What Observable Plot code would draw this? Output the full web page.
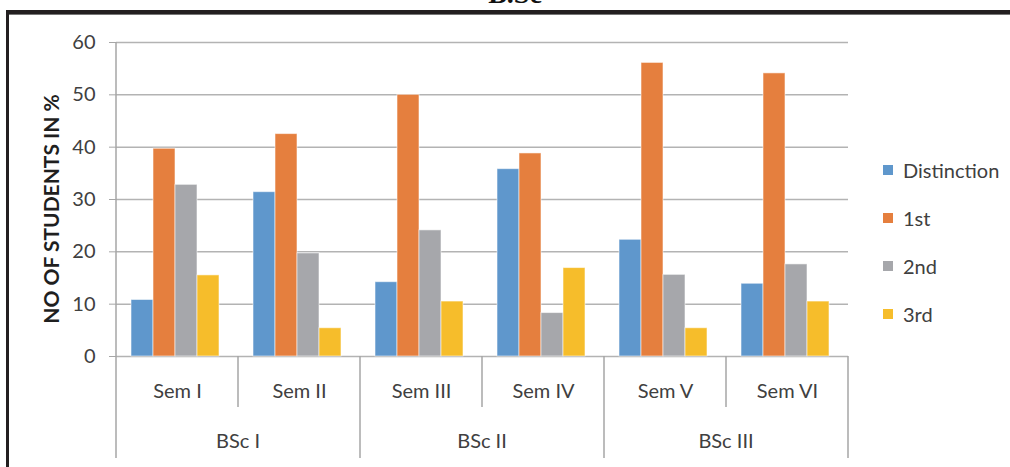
<!DOCTYPE html>
<html>
<head>
<meta charset="utf-8">
<script src="https://cdn.jsdelivr.net/npm/d3@7"></script>
<script src="https://cdn.jsdelivr.net/npm/@observablehq/plot@0.6"></script>
<style>
  html, body { margin: 0; padding: 0; background: #fff; }
  #wrap { position: relative; width: 1010px; height: 467px; overflow: hidden; background: #fff; }
  #title { position: absolute; left: 0; width: 1030px; top: -20px; text-align: center;
           font: bold 28px "Liberation Serif", serif; color: #111; line-height: 28px; }
  #frame { position: absolute; left: 6px; top: 10px; width: 1100px; height: 600px;
           border-top: 4px solid #231f20; border-left: 3px solid #231f20;
           box-shadow: inset 0 1px 0 #777; }
  #chart { position: absolute; left: 0; top: 0; }
  #legend { position: absolute; left: 883px; top: 146px; font: 20px Lato, sans-serif; color: #404040; }
  .row { height: 48px; display: flex; align-items: center; }
  .sw { width: 10px; height: 10px; margin-right: 10px; }
</style>
</head>
<body>
<div id="wrap">
  <div id="title">B.Sc</div>
  <div id="frame"></div>
  <div id="chart"></div>
  <div id="legend"></div>
</div>
<script>
const semesters = ["Sem I", "Sem II", "Sem III", "Sem IV", "Sem V", "Sem VI"];
const years = ["BSc I", "BSc II", "BSc III"];
const series = ["Distinction", "1st", "2nd", "3rd"];
const colors = ["#5f97cc", "#e57f3e", "#a6a7ab", "#f6bd2b"];
const distinction = [10.8, 31.4, 14.2, 35.8, 22.3, 13.9];
const first = [39.7, 42.5, 50.0, 38.8, 56.1, 54.1];
const second = [32.8, 19.7, 24.1, 8.3, 15.6, 17.6];
const third = [15.5, 5.4, 10.5, 16.9, 5.4, 10.5];
const yTicks = [0, 10, 20, 30, 40, 50, 60];
const yLabel = "NO OF STUDENTS IN %";

const values = [distinction, first, second, third];
const data = semesters.flatMap((s, i) => series.map((k, j) => ({semester: s, series: k, value: values[j][i]})));

const chart = Plot.plot({
  width: 1010,
  height: 467,
  marginTop: 42,
  marginBottom: 111,
  marginLeft: 115,
  marginRight: 162,
  style: {fontFamily: "Lato, sans-serif", fontSize: "20px", color: "#404040", background: "transparent", overflow: "visible"},
  facet: {data: data, x: "semester"},
  fx: {domain: semesters, padding: 0, label: null, tickSize: 0, tickPadding: 27},
  x: {domain: series, axis: null, paddingInner: 0, paddingOuter: 0.76, align: 0.45},
  y: {domain: [0, 60], ticks: yTicks, tickSize: 7, tickPadding: 14, label: null},
  color: {domain: series, range: colors},
  marks: [
    Plot.ruleY(yTicks, {stroke: "#b3b3b3", strokeWidth: 1.5}),
    Plot.barY(data, {x: "series", y: "value", fill: "series", stroke: "#ffffff", strokeOpacity: 0.55, strokeWidth: 1})
  ]
});
document.getElementById("chart").appendChild(chart);

const svg = d3.select(chart.tagName.toLowerCase() === "svg" ? chart : chart.querySelector("svg"));
svg.selectAll('[aria-label="y-axis"] line, [aria-label="y-axis tick"] path, [aria-label="y-axis tick"]')
  .attr("stroke", "#a6a6a6");

const fx = chart.scale("fx");
const y = chart.scale("y");
const y0 = y.apply(0), yTop = y.apply(60);
const bw = fx.bandwidth;
const g = svg.append("g");
for (let i = 0; i <= semesters.length; i++) {
  const x = i < semesters.length ? fx.apply(semesters[i]) : fx.apply(semesters[semesters.length - 1]) + bw;
  const group = i % 2 === 0;
  g.append("line")
    .attr("x1", x).attr("x2", x)
    .attr("y1", i === 0 ? yTop : y0)
    .attr("y2", group ? y0 + 102 : y0 + 51)
    .attr("stroke", "#a6a6a6").attr("stroke-width", 1.5);
}
years.forEach((yr, k) => {
  g.append("text")
    .attr("x", fx.apply(semesters[2 * k]) + bw)
    .attr("y", y0 + 84)
    .attr("text-anchor", "middle")
    .attr("dominant-baseline", "central")
    .attr("fill", "#404040")
    .style("font", "20px Lato, sans-serif")
    .text(yr);
});
g.append("text")
  .attr("transform", `translate(50,${(y0 + yTop) / 2 + 10}) rotate(-90)`)
  .attr("text-anchor", "middle")
  .attr("dominant-baseline", "central")
  .attr("fill", "#1f1f1f")
  .style("font", "bold 21px Lato, sans-serif")
  .text(yLabel);

const color = chart.scale("color");
const legend = d3.select("#legend");
series.forEach(s => {
  const row = legend.append("div").attr("class", "row");
  row.append("div").attr("class", "sw").style("background", color.apply(s));
  row.append("span").text(s);
});
</script>
</body>
</html>
